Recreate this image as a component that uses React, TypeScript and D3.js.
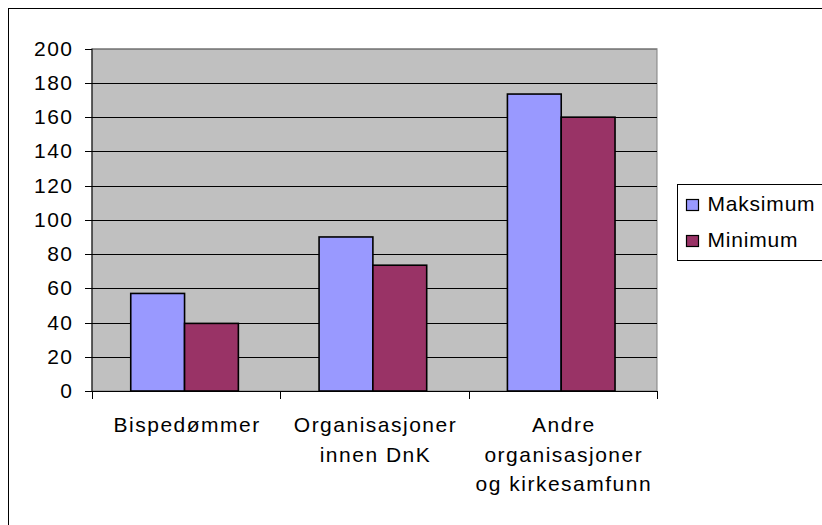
import React, { useRef, useEffect } from "react";
import * as d3 from "d3";

const categories = [
  ["Bispedømmer"],
  ["Organisasjoner", "innen DnK"],
  ["Andre", "organisasjoner", "og kirkesamfunn"],
];
const seriesNames = ["Maksimum", "Minimum"];
const maksimum = [57, 90, 173.5];
const minimum = [39.5, 73.5, 160];
const yTicks = [0, 20, 40, 60, 80, 100, 120, 140, 160, 180, 200];
const colors = ["#9999FF", "#993366"];

const App = () => {
  const svgRef = useRef<SVGSVGElement | null>(null);

  useEffect(() => {
    const svg = d3.select(svgRef.current);
    svg.selectAll("*").remove();

    const width = 822;
    const height = 525;
    const left = 92;
    const right = 657;
    const top = 48.7;
    const bottom = 391;
    const font = "'Liberation Sans', Arial, sans-serif";

    svg.attr("width", width).attr("height", height);

    // outer frame
    svg
      .append("rect")
      .attr("x", 8.5)
      .attr("y", 8.5)
      .attr("width", 900)
      .attr("height", 600)
      .attr("fill", "#fff")
      .attr("stroke", "#000")
      .attr("stroke-width", 1);

    const x = d3
      .scaleBand<number>()
      .domain(categories.map((_, i) => i))
      .range([left, right]);

    const y = d3.scaleLinear().domain([0, 200]).range([bottom, top]);

    // plot area
    svg
      .append("rect")
      .attr("x", left)
      .attr("y", top)
      .attr("width", right - left)
      .attr("height", bottom - top)
      .attr("fill", "#C0C0C0")
      .attr("stroke", "#808080")
      .attr("stroke-width", 1);

    // gridlines
    svg
      .append("g")
      .selectAll("line")
      .data(yTicks.filter((t) => t > 0))
      .enter()
      .append("line")
      .attr("x1", left)
      .attr("x2", right)
      .attr("y1", (d) => Math.round(y(d)) + 0.5)
      .attr("y2", (d) => Math.round(y(d)) + 0.5)
      .attr("stroke", (d) => (d === 200 ? "#808080" : "#000"))
      .attr("stroke-width", 1);

    // bars
    const barW = x.step() / 3.5;
    const series = [maksimum, minimum];
    series.forEach((vals, s) => {
      svg
        .append("g")
        .selectAll("rect")
        .data(vals)
        .enter()
        .append("rect")
        .attr("x", (_, i) => x(i)! + barW * 0.72 + s * barW)
        .attr("y", (d) => y(d))
        .attr("width", barW)
        .attr("height", (d) => bottom - y(d))
        .attr("fill", colors[s])
        .attr("stroke", "#000")
        .attr("stroke-width", 1.6);
    });

    // y axis
    svg
      .append("line")
      .attr("x1", left)
      .attr("x2", left)
      .attr("y1", top)
      .attr("y2", bottom)
      .attr("stroke", "#000");
    const yg = svg.append("g");
    yTicks.forEach((t) => {
      const yy = Math.round(y(t)) + 0.5;
      yg.append("line")
        .attr("x1", left - 7)
        .attr("x2", left)
        .attr("y1", yy)
        .attr("y2", yy)
        .attr("stroke", "#000");
      yg.append("text")
        .attr("x", 73.5)
        .attr("y", yy + 6)
        .attr("text-anchor", "end")
        .style("font-family", font)
        .style("font-size", "21px")
        .style("letter-spacing", "1.5px")
        .text(t);
    });

    // x axis
    svg
      .append("line")
      .attr("x1", left)
      .attr("x2", right)
      .attr("y1", bottom + 0.5)
      .attr("y2", bottom + 0.5)
      .attr("stroke", "#000");
    const boundaries = [left, ...categories.map((_, i) => x(i)! + x.step())];
    svg
      .append("g")
      .selectAll("line")
      .data(boundaries)
      .enter()
      .append("line")
      .attr("x1", (d) => Math.round(d) + 0.5)
      .attr("x2", (d) => Math.round(d) + 0.5)
      .attr("y1", bottom)
      .attr("y2", bottom + 8)
      .attr("stroke", "#000");

    categories.forEach((lines, i) => {
      const cx = x(i)! + x.bandwidth() / 2 + 1;
      lines.forEach((ln, j) => {
        svg
          .append("text")
          .attr("x", cx)
          .attr("y", 432 + j * 29.5)
          .attr("text-anchor", "middle")
          .style("font-family", font)
          .style("font-size", "21px")
          .style("letter-spacing", "1.5px")
          .text(ln);
      });
    });

    // legend
    const legend = svg.append("g").attr("transform", "translate(677.5, 184.5)");
    legend
      .append("rect")
      .attr("width", 200)
      .attr("height", 76)
      .attr("fill", "#fff")
      .attr("stroke", "#000");
    seriesNames.forEach((name, i) => {
      const row = legend.append("g").attr("transform", `translate(0, ${i * 36})`);
      row
        .append("rect")
        .attr("x", 9)
        .attr("y", 15)
        .attr("width", 12)
        .attr("height", 11)
        .attr("fill", colors[i])
        .attr("stroke", "#000")
        .attr("stroke-width", 1.2);
      row
        .append("text")
        .attr("x", 30)
        .attr("y", 26.5)
        .style("font-family", font)
        .style("font-size", "21px")
        .style("letter-spacing", "0.8px")
        .text(name);
    });
  }, []);

  return (
    <svg
      ref={svgRef}
      style={{ position: "absolute", left: 0, top: 0, display: "block" }}
    />
  );
};

export default App;
